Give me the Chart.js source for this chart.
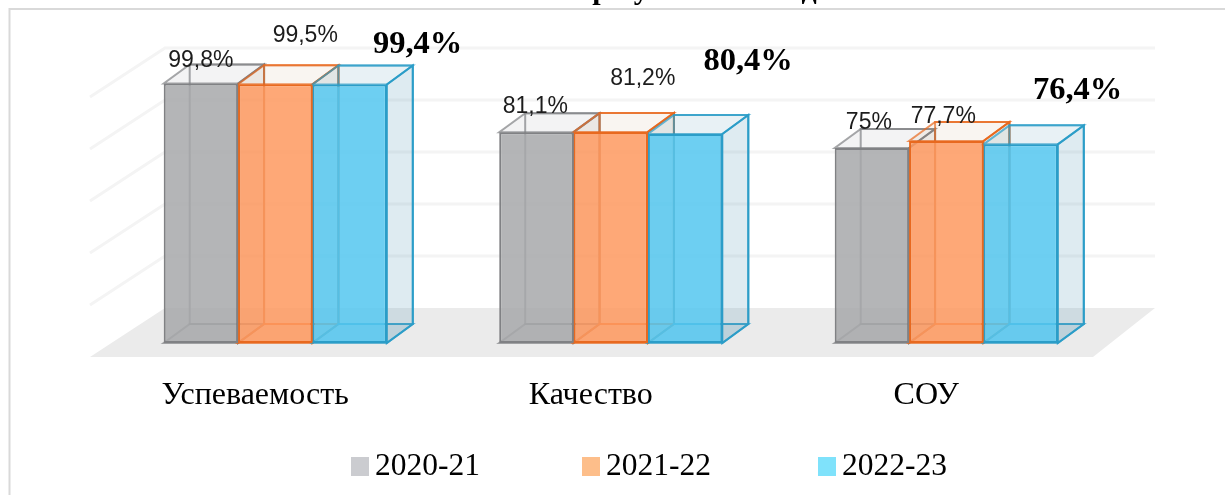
<!DOCTYPE html>
<html lang="ru">
<head>
<meta charset="utf-8">
<title>Результаты</title>
<script src="https://cdn.jsdelivr.net/npm/chart.js@4"></script>
<style>
    html, body { margin: 0; background: #fff; }
    canvas { display: block; }
</style>
</head>
<body>
<canvas id="resultsChart" width="1225" height="495"></canvas>
<script>
const categories = ['Успеваемость', 'Качество', 'СОУ'];
const seriesNames = ['2020-21', '2021-22', '2022-23'];
const values2021 = [99.8, 81.1, 75];
const values2122 = [99.5, 81.2, 77.7];
const values2223 = [99.4, 80.4, 76.4];

const frontColors = ['rgba(167,168,170,0.85)', 'rgba(254,153,95,0.85)', 'rgba(83,199,240,0.85)'];
const edgeColors = ['#808184', '#e8691f', '#2b9dc8'];
const faceColors = ['rgba(120,120,125,0.12)', 'rgba(190,150,110,0.14)', 'rgba(90,155,185,0.2)'];
const swatchColors = ['#cbccd0', '#fdbe8a', '#7fe2fb'];

// label offsets from the top centre of each bar, the labels were placed by hand in the original
const labelOffsets = [
    [[0, -23], [-1, -25], [-3, -25]],
    [[30, -49], [32, -53], [-3, -24]],
    [[68, -40], [63, -72], [57, -54]]
];

const DEPTH_X = 26;
const DEPTH_Y = 19;

function poly(ctx, pts, fill, stroke) {
    ctx.beginPath();
    pts.forEach((p, i) => (i ? ctx.lineTo(p[0], p[1]) : ctx.moveTo(p[0], p[1])));
    ctx.closePath();
    if (fill) {
        ctx.fillStyle = fill;
        ctx.fill();
    }
    if (stroke) {
        ctx.strokeStyle = stroke;
        ctx.lineWidth = 2;
        ctx.stroke();
    }
}

// Frame, cut off title, floor and back wall lines
const wallPlugin = {
    id: 'wall',
    beforeDatasetsDraw(chart) {
        const { ctx, chartArea: area, scales: { y } } = chart;
        ctx.save();

        ctx.strokeStyle = '#d9d9d9';
        ctx.lineWidth = 2;
        ctx.beginPath();
        ctx.moveTo(9.5, 495);
        ctx.lineTo(9.5, 9);
        ctx.lineTo(1225, 9);
        ctx.stroke();

        ctx.fillStyle = '#000';
        ctx.font = 'bold 30px "Liberation Serif"';
        ctx.textAlign = 'left';
        ctx.textBaseline = 'alphabetic';
        ctx.wordSpacing = '20px';
        ctx.fillText('Итоговые результаты года', 432, -1);
        ctx.wordSpacing = '0px';

        const base = y.getPixelForValue(0);
        const backLeft = area.left + 57.5;
        const backRight = area.right + 41;
        poly(ctx, [
            [backLeft - 75, base + 14],
            [area.right - 21, base + 14],
            [backRight, base - 35],
            [backLeft, base - 35]
        ], '#ebebeb');

        ctx.strokeStyle = '#f4f4f4';
        ctx.lineWidth = 3;
        y.ticks.forEach(t => {
            if (t.value === 0) return;
            const py = y.getPixelForValue(t.value) - 35;
            ctx.beginPath();
            ctx.moveTo(backLeft - 75, py + 49);
            ctx.lineTo(backLeft, py);
            ctx.lineTo(backRight, py);
            ctx.stroke();
        });

        // back, floor, top and side of every box, the fronts come from the bars themselves
        chart.data.datasets.forEach((ds, i) => {
            const edge = edgeColors[i];
            const face = faceColors[i];
            chart.getDatasetMeta(i).data.forEach(bar => {
                const l = bar.x - bar.width / 2;
                const r = bar.x + bar.width / 2;
                const t = bar.y;
                const b = bar.base;
                const dx = DEPTH_X;
                const dy = DEPTH_Y;
                ctx.globalAlpha = 0.7;
                poly(ctx, [[l + dx, t - dy], [r + dx, t - dy], [r + dx, b - dy], [l + dx, b - dy]], null, edge);
                poly(ctx, [[l, b], [r, b], [r + dx, b - dy], [l + dx, b - dy]], face, edge);
                poly(ctx, [[l, t], [r, t], [r + dx, t - dy], [l + dx, t - dy]], face, edge);
                ctx.globalAlpha = 1;
                poly(ctx, [[r, t], [r + dx, t - dy], [r + dx, b - dy], [r, b]], face, edge);
            });
        });
        ctx.restore();
    },
    afterDatasetsDraw(chart) {
        const { ctx } = chart;
        ctx.save();
        ctx.textAlign = 'center';
        ctx.textBaseline = 'middle';

        // value labels, the newest year is bold serif in the original
        chart.data.datasets.forEach((ds, i) => {
            ctx.font = i === 2 ? 'bold 32.5px "Liberation Serif"' : '23px "Liberation Sans"';
            ctx.fillStyle = i === 2 ? '#000' : '#1c1c1c';
            chart.getDatasetMeta(i).data.forEach((bar, j) => {
                const text = String(ds.data[j]).replace('.', ',') + '%';
                const off = labelOffsets[i][j];
                ctx.fillText(text, bar.x + off[0], bar.y + off[1]);
            });
        });

        // legend, box and text sit closer than the built in one allows
        const legendX = [351, 582, 818];
        ctx.font = '31.5px "Liberation Serif"';
        ctx.textAlign = 'left';
        chart.data.datasets.forEach((ds, i) => {
            ctx.fillStyle = swatchColors[i];
            ctx.fillRect(legendX[i], 457, 18, 19);
            ctx.fillStyle = '#000';
            ctx.fillText(ds.label, legendX[i] + 24, 467);
        });
        ctx.restore();
    }
};

new Chart(document.getElementById('resultsChart').getContext('2d'), {
    type: 'bar',
    data: {
        labels: categories,
        datasets: [values2021, values2122, values2223].map((vals, i) => ({
            label: seriesNames[i],
            data: vals,
            backgroundColor: frontColors[i],
            borderColor: edgeColors[i],
            borderWidth: 2,
            borderSkipped: false,
            categoryPercentage: 0.665,
            barPercentage: 1
        }))
    },
    options: {
        responsive: false,
        animation: false,
        layout: { padding: { left: 107.5, right: 111, top: 83, bottom: 52 } },
        plugins: {
            legend: { display: false },
            tooltip: { enabled: false },
            title: { display: false }
        },
        scales: {
            x: {
                afterFit: s => { s.height = 100; },
                grid: { display: false },
                border: { display: false },
                ticks: {
                    color: '#000',
                    font: { family: '"Liberation Serif"', size: 32 },
                    padding: 25,
                    labelOffset: -20,
                    maxRotation: 0
                }
            },
            y: {
                display: false,
                min: 0,
                max: 100,
                ticks: { stepSize: 20 }
            }
        }
    },
    plugins: [wallPlugin]
});
</script>
</body>
</html>
